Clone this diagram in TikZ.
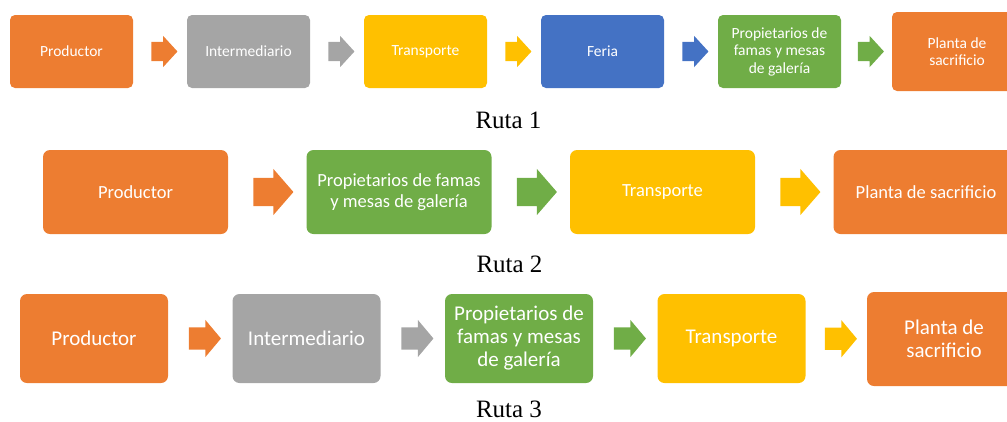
\documentclass[tikz,border=0pt]{standalone}
\usepackage{fontspec}
\setmainfont{Liberation Serif}
\newfontfamily\boxfont{Carlito}
\usetikzlibrary{shapes.arrows,calc}
\definecolor{corange}{HTML}{ED7D31}
\definecolor{cgray}{HTML}{A5A5A5}
\definecolor{cyellow}{HTML}{FFC000}
\definecolor{cblue}{HTML}{4472C4}
\definecolor{cgreen}{HTML}{70AD47}
\tikzset{
  boxA/.style={fill=#1, draw=none, rounded corners=5pt, text=white, align=center, inner sep=0pt,
    minimum width=123pt, minimum height=73pt, font=\boxfont\fontsize{15.5}{17.5}\selectfont},
  boxB/.style={fill=#1, draw=none, rounded corners=7pt, text=white, align=center, inner sep=0pt,
    minimum width=185pt, minimum height=84pt, font=\boxfont\fontsize{18.5}{20.5}\selectfont},
  boxC/.style={fill=#1, draw=none, rounded corners=7pt, text=white, align=center, inner sep=0pt,
    minimum width=148pt, minimum height=89pt, font=\boxfont\fontsize{21}{23}\selectfont},
  arrA/.style={single arrow, fill=#1, draw=none, inner xsep=0pt, inner ysep=9.5pt, minimum height=26pt,
    single arrow head extend=6pt, single arrow tip angle=95},
  arrB/.style={single arrow, fill=#1, draw=none, inner xsep=0pt, inner ysep=14pt, minimum height=40pt,
    single arrow head extend=9pt, single arrow tip angle=98},
  arrC/.style={single arrow, fill=#1, draw=none, inner xsep=0pt, inner ysep=11pt, minimum height=32pt,
    single arrow head extend=7.5pt, single arrow tip angle=100},
  ruta/.style={anchor=base, font=\fontsize{25}{28}\selectfont, inner sep=0pt}
}
\begin{document}
\begin{tikzpicture}[x=1pt,y=-1pt]
\useasboundingbox (0,0) rectangle (1007,421);
\clip (0,0) rectangle (1007,421);
% Ruta 1
\node[boxA=corange] (p1) at (71.5,51.5) {Productor};
\node[boxA=cgray] (i1) at (248.5,51.5) {Intermediario};
\node[boxA=cyellow] (t1) at (425.5,51.5) {Transporte};
\node[boxA=cblue] (f1) at (602.5,51.5) {Feria};
\node[boxA=cgreen] (g1) at (779.5,51.5) {Propietarios de\\famas y mesas\\de galería};
\node[boxA=corange, minimum width=130pt, minimum height=79pt] (s1) at (957,51.5) {Planta de\\sacrificio};
\node[arrA=corange] (a11) at ($(p1.east)!0.5!(i1.west)$) {};
\node[arrA=cgray] (a12) at ($(i1.east)!0.5!(t1.west)$) {};
\node[arrA=cyellow] (a13) at ($(t1.east)!0.5!(f1.west)$) {};
\node[arrA=cblue] (a14) at ($(f1.east)!0.5!(g1.west)$) {};
\node[arrA=cgreen] (a15) at ($(g1.east)!0.5!(s1.west)$) {};
\node[ruta] (r1) at (508.5,128) {Ruta 1};
% Ruta 2
\node[boxB=corange] (p2) at (135.5,192) {Productor};
\node[boxB=cgreen] (g2) at (399,192) {Propietarios de famas\\y mesas de galería};
\node[boxB=cyellow] (t2) at (662.5,192) {Transporte};
\node[boxB=corange] (s2) at (926,192) {Planta de sacrificio};
\node[arrB=corange] (a21) at ($(p2.east)!0.5!(g2.west)$) {};
\node[arrB=cgreen] (a22) at ($(g2.east)!0.5!(t2.west)$) {};
\node[arrB=cyellow] (a23) at ($(t2.east)!0.5!(s2.west)$) {};
\node[ruta] (r2) at (509.5,272) {Ruta 2};
% Ruta 3
\node[boxC=corange] (p3) at (94,338.5) {Productor};
\node[boxC=cgray] (i3) at (306.5,338.5) {Intermediario};
\node[boxC=cgreen] (g3) at (519,338.5) {Propietarios de\\famas y mesas\\de galería};
\node[boxC=cyellow] (t3) at (731.5,338.5) {Transporte};
\node[boxC=corange, minimum width=154pt, minimum height=94pt] (s3) at (944,339) {Planta de\\sacrificio};
\node[arrC=corange] (a31) at ($(p3.east)!0.5!(i3.west)$) {};
\node[arrC=cgray] (a32) at ($(i3.east)!0.5!(g3.west)$) {};
\node[arrC=cgreen] (a33) at ($(g3.east)!0.5!(t3.west)$) {};
\node[arrC=cyellow] (a34) at ($(t3.east)!0.5!(s3.west)$) {};
\node[ruta] (r3) at (509,417) {Ruta 3};
\end{tikzpicture}
\end{document}
